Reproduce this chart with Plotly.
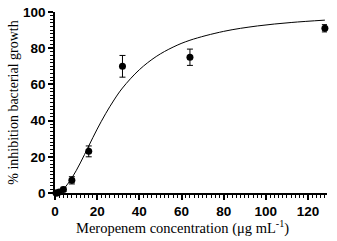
import plotly.graph_objects as go

conc = [0.5, 1, 2, 4, 8, 16, 32, 64, 128]
inhibition = [0, 0, 0.5, 2, 7, 23, 70, 75, 91]
err = [0.5, 0.5, 0.8, 1.2, 2, 3, 6, 4.5, 2]

curve_x = [0, 2, 4, 8, 12, 16, 20, 24, 28, 32, 40, 48, 56, 64, 80, 96, 112, 128]
curve_y = [0, 0.6, 2.2, 8.3, 16.6, 26, 35.3, 43.8, 51.4, 58, 68.1, 75.4, 80.6, 84.4, 89.3, 92.3, 94.2, 95.5]

x_ticks = [0, 20, 40, 60, 80, 100, 120]
y_ticks = [0, 20, 40, 60, 80, 100]

fig = go.Figure()
fig.add_trace(go.Scatter(x=curve_x, y=curve_y, mode="lines", line=dict(color="black", width=1, shape="spline"),
                         hoverinfo="skip", showlegend=False))
fig.add_trace(go.Scatter(x=conc, y=inhibition, mode="markers",
                         marker=dict(color="black", size=7),
                         error_y=dict(type="data", array=err, color="black", thickness=1, width=3),
                         cliponaxis=False, showlegend=False))

axis_common = dict(showgrid=False, zeroline=False, showline=True, linecolor="black", linewidth=1.5,
                   ticks="outside", ticklen=5, tickwidth=1.5, tickcolor="black", automargin=False,
                   tickfont=dict(family="Liberation Sans", size=13.5, color="black", weight="bold"))

fig.update_xaxes(range=[0, 129], tickvals=x_ticks,
                 minor=dict(dtick=2, ticks="outside", ticklen=3, tickcolor="black", tickwidth=1),
                 **axis_common)
fig.update_yaxes(range=[0, 100], tickvals=y_ticks,
                 minor=dict(dtick=2, ticks="outside", ticklen=3, tickcolor="black", tickwidth=1),
                 title=dict(text="% inhibition bacterial growth",
                            font=dict(family="Liberation Serif", size=14, color="black"), standoff=1),
                 **axis_common)

fig.add_annotation(text="Meropenem concentration (μg mL<sup>-1</sup>)", xref="paper", yref="paper",
                   x=0.47, y=-0.188, xanchor="center", yanchor="middle", showarrow=False,
                   font=dict(family="Liberation Serif", size=14.5, color="black"))

fig.update_layout(width=337, height=241, margin=dict(l=55, r=10, t=12, b=48),
                  plot_bgcolor="white", paper_bgcolor="white")
fig.write_html("out.html", config={"displayModeBar": False},
               post_script="document.body.style.margin='0px';document.body.style.overflow='hidden';")
